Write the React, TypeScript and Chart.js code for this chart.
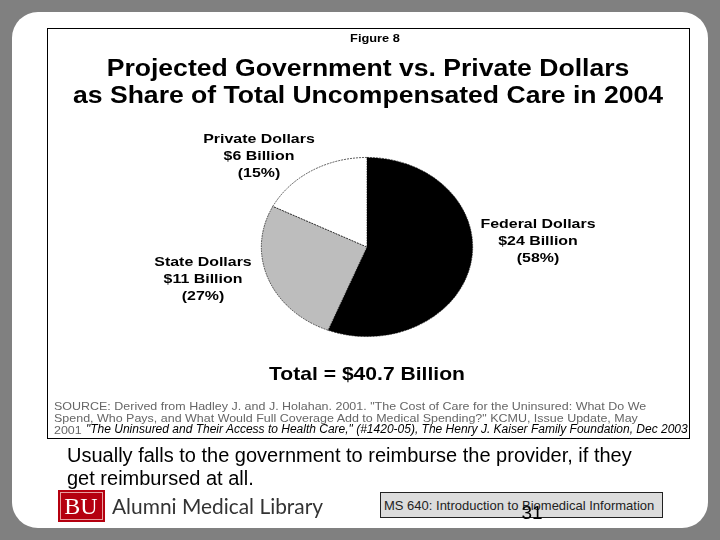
import { useEffect, useRef } from "react";
import type { CSSProperties } from "react";
import Chart from "chart.js/auto";
import type { Plugin } from "chart.js/auto";

const categories = ["Federal Dollars", "State Dollars", "Private Dollars"];
const shares = [56, 26.5, 17.5];
const sliceColors = ["#000000", "#bdbdbd", "#ffffff"];

const titleLines = [
  "Projected Government vs. Private Dollars",
  "as Share of Total Uncompensated Care in 2004",
];
const federalLines = ["Federal Dollars", "$24 Billion", "(58%)"];
const stateLines = ["State Dollars", "$11 Billion", "(27%)"];
const privateLines = ["Private Dollars", "$6 Billion", "(15%)"];
const sourceLines = [
  "SOURCE: Derived from Hadley J. and J. Holahan. 2001. \"The Cost of Care for the Uninsured: What Do We",
  "Spend, Who Pays, and What Would Full Coverage Add to Medical Spending?\" KCMU, Issue Update, May",
  "2001",
];
const citation =
  "\"The Uninsured and Their Access to Health Care,\" (#1420-05), The Henry J. Kaiser Family Foundation, Dec 2003";
const bodyLines = [
  "Usually falls to the government to reimburse the provider, if they",
  "get reimbursed at all.",
];

// the slide squashes the pie vertically
const squash: Plugin<"pie"> = {
  id: "squash",
  beforeDatasetsDraw(chart) {
    const { ctx, chartArea } = chart;
    const cy = (chartArea.top + chartArea.bottom) / 2;
    ctx.save();
    ctx.translate(0, cy);
    ctx.scale(1, 89 / 105);
    ctx.translate(0, -cy);
  },
  afterDatasetsDraw(chart) {
    chart.ctx.restore();
  },
};

const FONT = '"Liberation Sans", Arial, sans-serif';

interface LabelProps {
  x: number;
  y: number;
  center?: boolean;
  stretch?: number;
  style?: CSSProperties;
  children: string;
}

const Label = ({ x, y, center, stretch = 1, style, children }: LabelProps) => (
  <div
    style={{
      position: "absolute",
      left: x,
      top: y,
      transform: center
        ? `translate(-50%, -50%) scaleX(${stretch})`
        : `translateY(-50%) scaleX(${stretch})`,
      transformOrigin: center ? "center" : "left center",
      whiteSpace: "pre",
      fontFamily: FONT,
      color: "#000",
      ...style,
    }}
  >
    {children}
  </div>
);

const sliceLabel: CSSProperties = { fontSize: 13.5, fontWeight: 700 };
const sourceLabel: CSSProperties = { fontSize: 11, color: "#666" };

export default function App() {
  const chartRef = useRef<HTMLCanvasElement | null>(null);

  useEffect(() => {
    if (!chartRef.current) return;
    const chart = new Chart(chartRef.current, {
      type: "pie",
      data: {
        labels: categories,
        datasets: [
          {
            data: shares,
            backgroundColor: sliceColors,
            borderColor: "#000",
            borderWidth: 0.7,
            borderDash: [2, 1],
          },
        ],
      },
      options: {
        animation: false,
        responsive: false,
        layout: { padding: { left: 261, right: 247, top: 141, bottom: 187 } },
        plugins: {
          legend: { display: false },
          title: { display: false },
          tooltip: { enabled: false },
        },
      },
      plugins: [squash],
    });
    return () => chart.destroy();
  }, []);

  return (
    <div
      style={{
        position: "absolute",
        left: 0,
        top: 0,
        width: 720,
        height: 540,
        overflow: "hidden",
        background: "#808080",
      }}
    >
      <div
        style={{
          position: "absolute",
          left: 12,
          top: 12,
          width: 696,
          height: 516,
          borderRadius: 26,
          background: "#fff",
        }}
      />
      <div
        style={{
          position: "absolute",
          left: 47,
          top: 28,
          width: 641,
          height: 409,
          border: "1px solid #000",
        }}
      />
      <canvas
        ref={chartRef}
        width={720}
        height={540}
        style={{ position: "absolute", left: 0, top: 0 }}
      />

      <Label x={375} y={38} center stretch={1.28} style={{ fontSize: 10, fontWeight: 700 }}>
        Figure 8
      </Label>
      {titleLines.map((line, i) => (
        <Label
          key={line}
          x={368}
          y={68 + i * 27}
          center
          stretch={1.155}
          style={{ fontSize: 23, fontWeight: 700 }}
        >
          {line}
        </Label>
      ))}

      {privateLines.map((line, i) => (
        <Label key={line} x={259} y={138 + i * 17} center stretch={1.18} style={sliceLabel}>
          {line}
        </Label>
      ))}
      {federalLines.map((line, i) => (
        <Label key={line} x={538} y={223 + i * 17} center stretch={1.18} style={sliceLabel}>
          {line}
        </Label>
      ))}
      {stateLines.map((line, i) => (
        <Label key={line} x={203} y={261 + i * 17} center stretch={1.18} style={sliceLabel}>
          {line}
        </Label>
      ))}

      <Label x={367} y={374} center stretch={1.14} style={{ fontSize: 18.5, fontWeight: 700 }}>
        Total = $40.7 Billion
      </Label>

      {sourceLines.map((line, i) => (
        <Label key={line} x={54} y={[406, 418, 430][i]} stretch={1.134} style={sourceLabel}>
          {line}
        </Label>
      ))}
      <Label x={86} y={429} style={{ fontSize: 12, fontStyle: "italic" }}>
        {citation}
      </Label>

      {bodyLines.map((line, i) => (
        <Label key={line} x={67} y={455 + i * 23} style={{ fontSize: 20 }}>
          {line}
        </Label>
      ))}

      <div
        style={{
          position: "absolute",
          left: 58,
          top: 490,
          width: 47,
          height: 32,
          boxSizing: "border-box",
          background: "#b5000f",
          border: "1px solid #b5000f",
          outline: "1px solid #e8a0a0",
          outlineOffset: -3,
        }}
      />
      <Label
        x={81}
        y={506}
        center
        style={{ fontSize: 24, color: "#fff", fontFamily: '"Liberation Serif", serif' }}
      >
        BU
      </Label>
      <Label
        x={112}
        y={505}
        stretch={0.95}
        style={{ fontSize: 22, color: "#333", fontFamily: "Lato, sans-serif" }}
      >
        Alumni Medical Library
      </Label>

      <div
        style={{
          position: "absolute",
          left: 380,
          top: 492,
          width: 281,
          height: 24,
          background: "#dcdcdc",
          border: "1px solid #222",
        }}
      />
      <Label x={384} y={505} style={{ fontSize: 13, color: "#222" }}>
        MS 640: Introduction to Biomedical Information
      </Label>
      <Label x={532} y={513} center style={{ fontSize: 19 }}>
        31
      </Label>
    </div>
  );
}
